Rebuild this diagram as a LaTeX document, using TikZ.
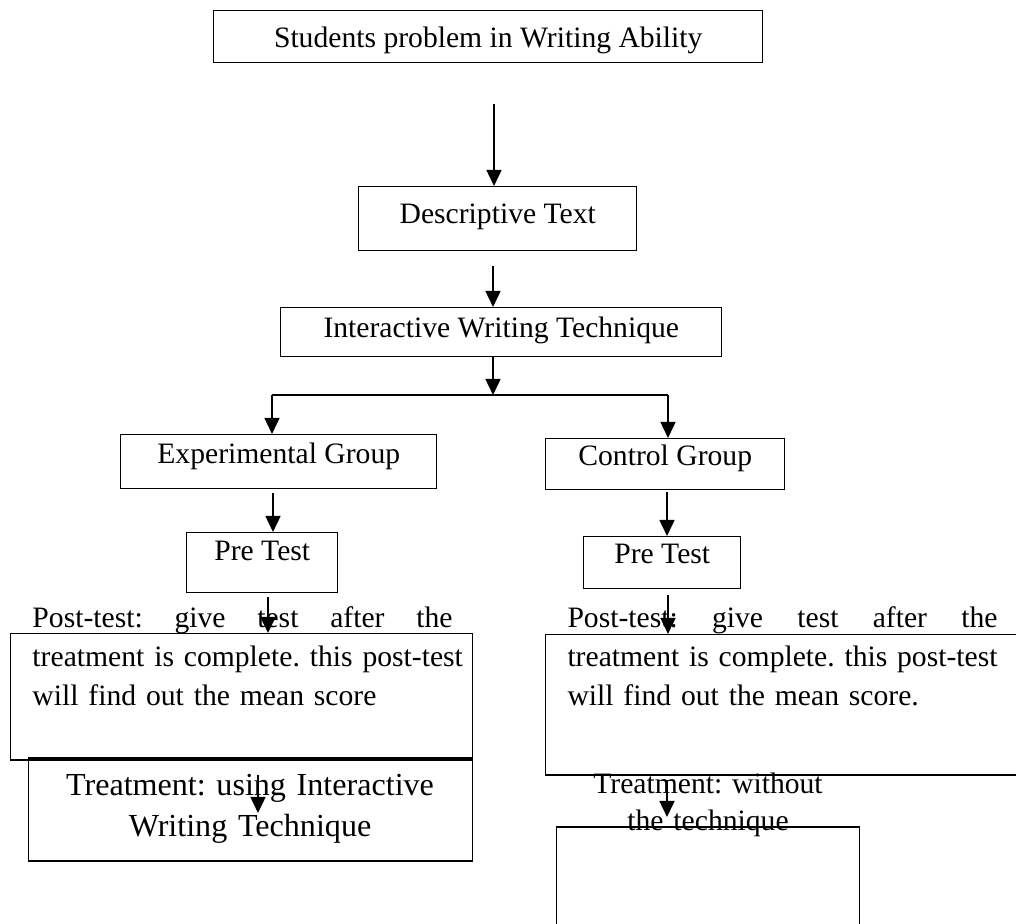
\documentclass[tikz,border=0pt]{standalone}
\usepackage{fontspec}
\setmainfont{Liberation Serif}
\usetikzlibrary{arrows.meta}
\frenchspacing

\newlength\pxl
\setlength\pxl{0.405pt}

\tikzset{
  box/.style n args={3}{draw, line width=0.6pt, inner sep=0pt, anchor=north west,
    minimum width=#1*0.405pt, text height=#2*0.405pt, text depth=#3*0.405pt},
  arr/.style={line width=0.9pt, -{Triangle[length=6.5pt,width=6pt]}},
  para/.style={inner sep=0pt, text width=#1*0.405pt},
}

\begin{document}
\begin{tikzpicture}[x=0.405pt,y=-0.405pt,font=\fontsize{12pt}{15pt}\selectfont]
        \useasboundingbox (0,0) rectangle (1016,923);
        \clip (0,0) rectangle (1016,923);

        \node (prob) at (213,10) [box={549}{37}{15}] {Students problem in Writing Ability};
        \node (desc) at (358,186) [box={278}{37}{27}] {Descriptive Text};
        \node (inter) at (280,307) [box={441}{30}{19}] {Interactive Writing Technique};
        \coordinate (A) at (494,104);
        \coordinate (B) at (493,266);
        \coordinate (C) at (493,395);
        \coordinate (L) at (272,395);
        \coordinate (R) at (668,395);
        \draw[arr] (A)--(A |- desc.north);
        \draw[arr] (B)--(B |- inter.north);
        \draw[arr] (inter.south -| C)--(C);
        \draw[line width=0.9pt] (L)--(R);

        \node (exp) at (120,434) [box={316}{29}{25}] {Experimental Group};
        \node (ctrl) at (545,438) [box={239}{27}{24}] {Control Group};
        \draw[arr] (L)--(L |- exp.north);
        \draw[arr] (R)--(R |- ctrl.north);

        % experimental side
        \begin{scope}
        \node (preL) at (186,532) [box={151}{28}{32}] {Pre Test};
        \coordinate (D) at (273,493);
        \draw[arr] (D)--(D |- preL.north);
        \node (postL) at (10,633) [box={462}{126}{0}] {};
        \coordinate (E) at (268,597);
        \draw[arr] (E)--(E |- postL.north);
        \node (postLtxt) at (32,627) [para=420, anchor=base west, font=\fontsize{12pt}{15.8pt}\selectfont]
          {\hbox to 420\pxl{Post-test:\hfill give\hfill test\hfill after\hfill the}
           \hbox to 420\pxl{treatment is complete. this post-test}
           \hbox{will find out the mean score}};
        \node (treatL) at (28,757) [box={444}{103}{0}] {};
        \node (treatLtxt) at (250,795) [para=420, anchor=base, align=center, font=\fontsize{13pt}{17pt}\selectfont]
          {Treatment: using Interactive\\ Writing Technique};
        \coordinate (F) at (258,775);
        \coordinate (G) at (258,813);
        \draw[arr] (F)--(G);
        \end{scope}

        % control side
        \begin{scope}
        \node (preR) at (583,536) [box={157}{27}{25}] {Pre Test};
        \coordinate (H) at (667,492);
        \draw[arr] (H)--(H |- preR.north);
        \node (postR) at (545,634) [box={485}{140}{0}] {};
        \coordinate (I) at (668,595);
        \draw[arr] (I)--(I |- postR.north);
        \node (postRtxt) at (567,627) [para=430, anchor=base west, font=\fontsize{12pt}{15.8pt}\selectfont]
          {\hbox to 430\pxl{Post-test:\hfill give\hfill test\hfill after\hfill the}
           \hbox to 430\pxl{treatment\hfill is\hfill complete.\hfill this\hfill post-test}
           \hbox{will find out the mean score.}};
        \node (treatRtxt) at (708,793) [para=240, anchor=base, align=center]
          {Treatment: without\\ the technique};
        \node (emptyR) at (556,826) [box={303}{120}{0}] {};
        \coordinate (J) at (667,780);
        \coordinate (K) at (667,817);
        \draw[arr] (J)--(K);
        \end{scope}
\end{tikzpicture}
\end{document}
